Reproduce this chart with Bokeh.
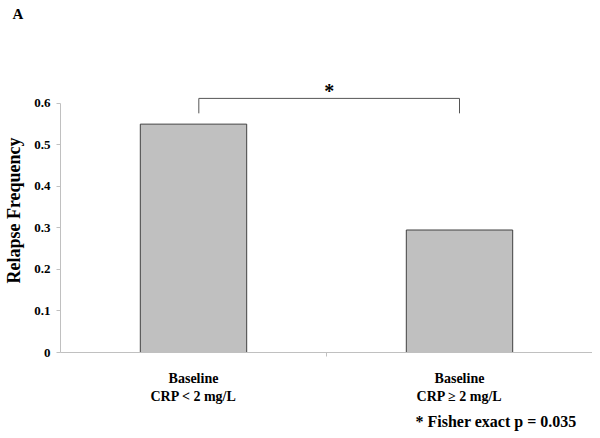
from bokeh.plotting import figure
from bokeh.models import Range1d, FixedTicker, ColumnDataSource, Title
from bokeh.core.properties import value
from bokeh.embed import file_html
from bokeh.resources import INLINE

categories = ["Baseline\nCRP < 2 mg/L", "Baseline\nCRP \u2265 2 mg/L"]
relapse_freq = [0.55, 0.295]
y_ticks = [0, 0.1, 0.2, 0.3, 0.4, 0.5, 0.6]
y_tick_labels = ["0", "0.1", "0.2", "0.3", "0.4", "0.5", "0.6"]
y_title = "Relapse Frequency"
panel_label = "A"
sig_mark = "*"
footnote = "* Fisher exact p = 0.035"

FONT = "Liberation Serif"
xpos = [i + 0.5 for i in range(len(categories))]

p = figure(frame_width=532, frame_height=284, output_backend="svg", toolbar_location=None,
           x_range=Range1d(0, 2), y_range=Range1d(0, 0.684), title=None,
           min_border_left=60, min_border_right=0, min_border_top=68, min_border_bottom=70)
p.outline_line_color = None
p.grid.grid_line_color = None
p.background_fill_color = "white"

src = ColumnDataSource(dict(x=xpos, top=relapse_freq))
p.vbar(x="x", top="top", width=0.4, bottom=0, source=src,
       fill_color="#c0c0c0", line_color="#404040", line_width=1)

# significance bracket
bx0, bx1 = xpos[0] + 0.02, xpos[1]
p.line(x=[bx0, bx0, bx1, bx1], y=[0.576, 0.612, 0.612, 0.576], line_color="#555555", line_width=1)
p.text(x=[(bx0 + bx1) / 2], y=[0.604], text=[sig_mark], text_font=value(FONT),
       text_font_size="20px", text_font_style="bold", text_align="center", text_baseline="bottom",
       text_color="black")

# y axis
ya = p.yaxis[0]
ya.ticker = FixedTicker(ticks=y_ticks)
ya.major_label_overrides = {t: l for t, l in zip(y_ticks, y_tick_labels)}
ya.bounds = (0, 0.6)
ya.axis_line_color = "#c0c0c0"
ya.major_tick_line_color = "#c0c0c0"
ya.major_tick_out = 4
ya.major_tick_in = 0
ya.minor_tick_line_color = None
ya.major_label_text_font = FONT
ya.major_label_text_font_style = "bold"
ya.major_label_text_font_size = "13px"
ya.major_label_text_color = "black"
ya.major_label_standoff = 6
ya.axis_label = y_title
ya.axis_label_text_font = FONT
ya.axis_label_text_font_style = "bold"
ya.axis_label_text_font_size = "18px"
ya.axis_label_text_color = "black"
ya.axis_label_standoff = 7

# x axis
xa = p.xaxis[0]
xa.ticker = FixedTicker(ticks=xpos, minor_ticks=[1.0, 2.0])
xa.major_label_overrides = {t: l for t, l in zip(xpos, categories)}
xa.axis_line_color = "#c0c0c0"
xa.major_tick_line_color = None
xa.minor_tick_line_color = "#c0c0c0"
xa.minor_tick_out = 4
xa.minor_tick_in = 0
xa.major_label_text_font = FONT
xa.major_label_text_font_style = "bold"
xa.major_label_text_font_size = "14px"
xa.major_label_text_color = "black"
xa.major_label_standoff = 12

# spacer panel next to the frame, then the panel letter at the very top
p.add_layout(Title(text=" ", standoff=31, text_font=FONT, text_font_size="10px"), "above")
p.add_layout(Title(text=panel_label, align="left", offset=-48, standoff=6,
                   text_font=FONT, text_font_style="bold", text_font_size="15px",
                   text_color="black"), "above")
p.add_layout(Title(text=footnote, align="left", offset=355, standoff=9,
                   text_font=FONT, text_font_style="bold", text_font_size="16px",
                   text_color="black"), "below")

open("out.html", "w").write(file_html(p, INLINE))
